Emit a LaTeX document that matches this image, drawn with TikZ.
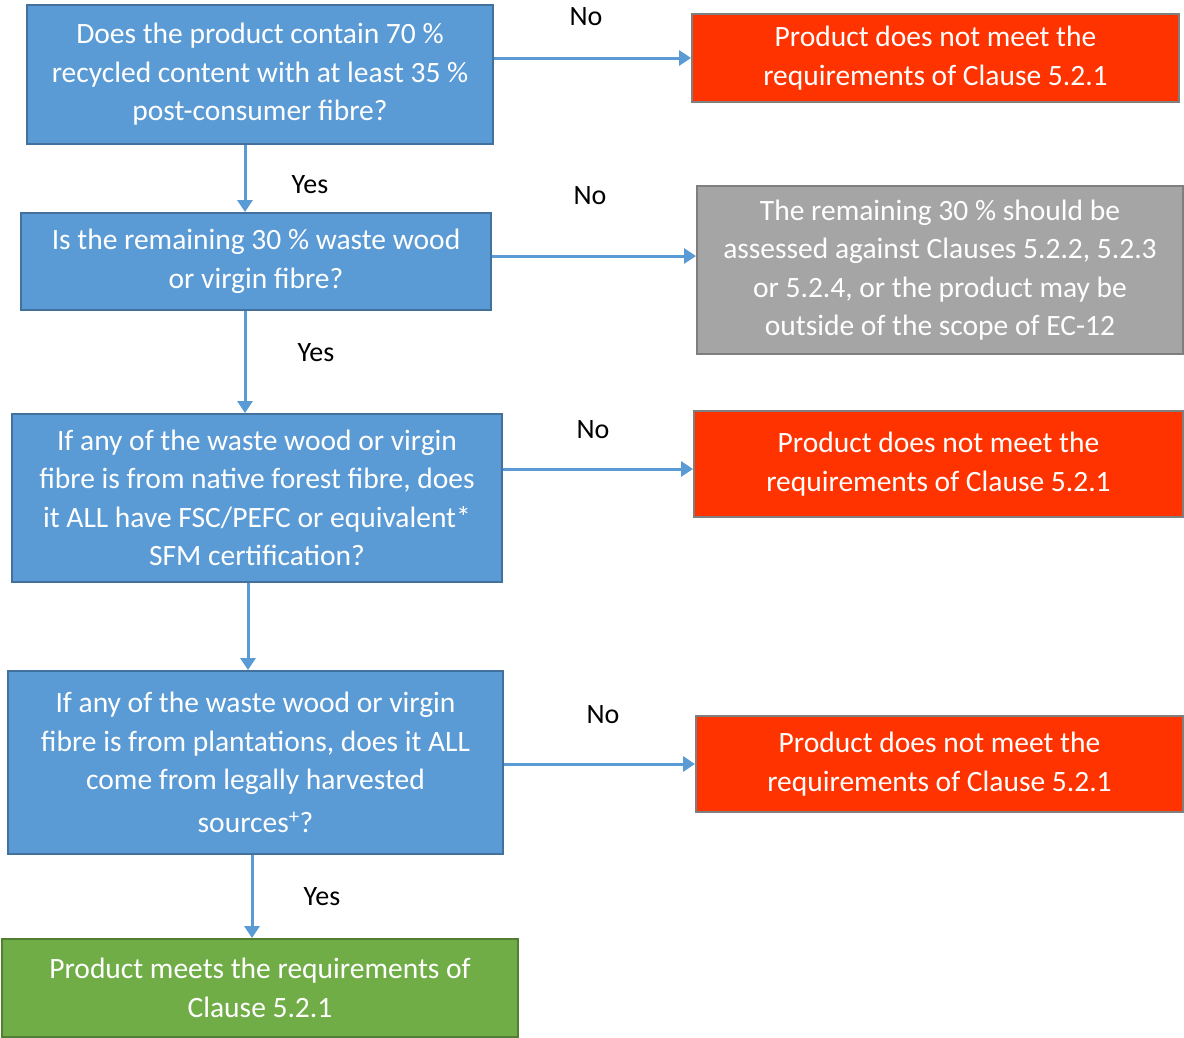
\documentclass[tikz,border=0pt]{standalone}
\usepackage{fontspec}
\setmainfont{Carlito}
\usepackage{tikz}
\usetikzlibrary{calc}
\usetikzlibrary{arrows.meta}
\definecolor{qblue}{HTML}{5B9BD5}
\definecolor{qblueline}{HTML}{41719C}
\definecolor{nored}{HTML}{FF3300}
\definecolor{nogray}{HTML}{A5A5A5}
\definecolor{boxline}{HTML}{7F7F7F}
\definecolor{yesgreen}{HTML}{70AD47}
\definecolor{yesline}{HTML}{507E32}
\tikzset{>={Triangle[length=12pt,width=15pt]}}
\tikzset{
  box/.style={rectangle,draw,line width=2pt,text=white,align=center,
    inner sep=0pt,font=\fontsize{29.5}{38.5}\selectfont},
  question/.style={box,fill=qblue,draw=qblueline},
  fail/.style={box,fill=nored,draw=boxline},
  other/.style={box,fill=nogray,draw=boxline},
  pass/.style={box,fill=yesgreen,draw=yesline},
  flow/.style={->,draw=qblue,line width=3pt},
  answer/.style={font=\fontsize{28}{34}\selectfont,text=black}
}

\begin{document}
\begin{tikzpicture}[x=1pt,y=-1pt]
            \useasboundingbox (0,0) rectangle (1184,1037);
            \node[question,minimum width=466pt,minimum height=139pt] (q1) at (260,74.5)
              {Does the product contain 70 \%\\recycled content with at least 35 \%\\post-consumer fibre?};
            \node[fail,minimum width=487pt,minimum height=88pt] (r1) at (935.5,58)
              {Product does not meet the\\requirements of Clause 5.2.1};
            \node[question,minimum width=470pt,minimum height=97pt] (q2) at (256,261.5)
              {Is the remaining 30 \% waste wood\\or virgin fibre?};
            \node[other,minimum width=486pt,minimum height=168pt] (r2) at (940,270)
              {The remaining 30 \% should be\\assessed against Clauses 5.2.2, 5.2.3\\or 5.2.4, or the product may be\\outside of the scope of EC-12};
            \node[question,minimum width=490pt,minimum height=168pt] (q3) at (257,498)
              {If any of the waste wood or virgin\\fibre is from native forest fibre, does\\it ALL have FSC/PEFC or equivalent*\\SFM certification?};
            \node[fail,minimum width=489pt,minimum height=106pt] (r3) at (938.5,464)
              {Product does not meet the\\requirements of Clause 5.2.1};
            \node[question,minimum width=495pt,minimum height=183pt] (q4) at (255.5,762.5)
              {If any of the waste wood or virgin\\fibre is from plantations, does it ALL\\come from legally harvested\\[4pt]sources\textsuperscript{+}?};
            \node[fail,minimum width=487pt,minimum height=96pt] (r4) at (939.5,764)
              {Product does not meet the\\requirements of Clause 5.2.1};
            \node[pass,minimum width=516pt,minimum height=98pt] (p) at (260,988)
              {Product meets the requirements of\\Clause 5.2.1};

            \node[answer] (no1) at (586,17) {No};
            \node[answer] (no2) at (590,196) {No};
            \node[answer] (no3) at (593,430) {No};
            \node[answer] (no4) at (603,715) {No};
            \node[answer] (yes1) at (310,185) {Yes};
            \node[answer] (yes2) at (316,353) {Yes};
            \node[answer] (yes3) at (322,897) {Yes};

            \draw[flow] (q1.east |- r1.west) -- (r1.west);
            \draw[flow] (q2.east |- 0,256) -- (r2.west |- 0,256);
            \draw[flow] (q3.east |- 0,469) -- (r3.west |- 0,469);
            \draw[flow] (q4.east |- r4.west) -- (r4.west);
            \draw[flow] (q1.south -| 245,0) -- (q2.north -| 245,0);
            \draw[flow] (q2.south -| 245,0) -- (q3.north -| 245,0);
            \draw[flow] (q3.south -| 248,0) -- (q4.north -| 248,0);
            \draw[flow] (q4.south -| 252,0) -- (p.north -| 252,0);
        \end{tikzpicture}
\end{document}
